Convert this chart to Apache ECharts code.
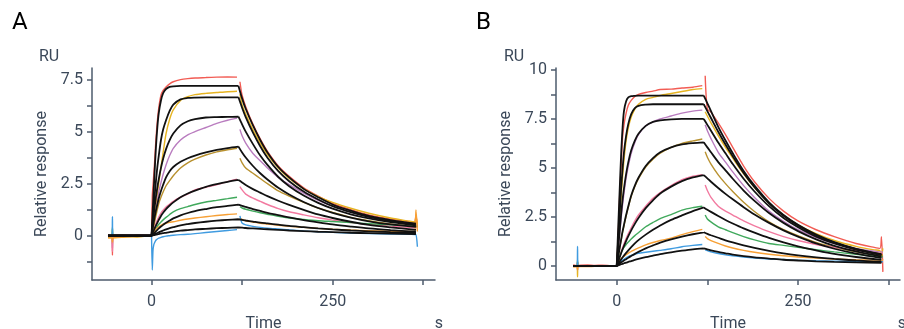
<!DOCTYPE html>
<html>
<head>
<meta charset="utf-8">
<script src="https://cdn.jsdelivr.net/npm/echarts@6/dist/echarts.min.js"></script>
<style>
  html, body { margin: 0; padding: 0; background: #fff; }
  #chart { width: 904px; height: 329px; }
</style>
</head>
<body>
<div id="chart"></div>
<script>
// colours of the measured curves, highest to lowest concentration
const curveColors = ['#f25c54', '#e6b422', '#b97cbf', '#b8912f', '#f27aa0', '#40a95c', '#f7a035', '#3f9be0'];

// time points (s)
const timeBase = [-60, -57, -54.6, -54, -53.4, -50, -40, -30, -20, -10, 0];
const timeAssoc = [0, 1, 2, 3, 4, 6, 8, 10, 13, 16, 20, 25, 30, 40, 50, 60, 75, 90, 105, 118];
const timeDiss = [122, 125, 130, 140, 150, 160, 175, 190, 210, 230, 250, 275, 300, 330, 355, 363, 365, 367];
const fitTimeBase = [-60, 0];
const fitZero = [0, 0];
const fitTimeAssoc = [0, 2, 4, 6, 8, 10, 13, 16, 20, 25, 30, 40, 50, 60, 75, 90, 105, 120];
const fitTimeDiss = [120, 125, 130, 140, 150, 160, 175, 190, 210, 230, 250, 275, 300, 330, 365];

// ---- panel A, measured (RU) ----
const baseA = [
  [0.05, 0.0, 0.0, -0.93, 0.02, 0.03, 0.04, 0.02, 0.03, 0.01, 0],
  [-0.08, -0.1, -0.05, -0.4, -0.08, -0.1, -0.08, -0.05, -0.06, -0.03, 0],
  [0, -0.03, 0, -0.6, 0, -0.02, 0, 0.01, 0, 0, 0],
  [-0.05, -0.06, -0.05, 0.3, -0.05, -0.04, -0.03, -0.02, -0.02, 0, 0],
  [0.02, 0, 0, -0.75, 0, 0.02, 0, 0.01, 0, 0.02, 0],
  [0, 0.01, 0, 0.4, 0, 0, 0.01, 0, 0, 0, 0],
  [-0.12, -0.1, -0.1, -0.3, -0.1, -0.08, -0.06, -0.05, -0.04, -0.02, 0],
  [0, 0, 0, 0.91, 0, 0.01, 0, 0, 0.01, 0, 0]
];
const assocA = [
  [0, 1.9, 2.4, 2.9, 3.4, 4.6, 5.5, 6.15, 6.75, 6.98, 7.15, 7.3, 7.4, 7.5, 7.55, 7.58, 7.6, 7.62, 7.63, 7.62],
  [0, 0.2, 0.4, 0.65, 0.9, 1.4, 2.0, 2.55, 3.3, 4.0, 4.9, 5.6, 6.05, 6.5, 6.68, 6.78, 6.84, 6.88, 6.92, 6.94],
  [0, 0.15, 0.3, 0.5, 0.7, 1.2, 1.65, 2.1, 2.55, 2.95, 3.4, 3.85, 4.2, 4.6, 4.85, 5.0, 5.2, 5.4, 5.55, 5.65],
  [0, 0.12, 0.25, 0.42, 0.6, 0.95, 1.25, 1.55, 1.85, 2.1, 2.4, 2.65, 2.88, 3.25, 3.5, 3.68, 3.88, 4.03, 4.13, 4.2],
  [0, 0.07, 0.15, 0.25, 0.35, 0.58, 0.75, 0.9, 1.08, 1.22, 1.38, 1.52, 1.65, 1.85, 2.0, 2.2, 2.33, 2.45, 2.6, 2.72],
  [0, 0.05, 0.1, 0.16, 0.22, 0.35, 0.45, 0.55, 0.66, 0.76, 0.88, 1.02, 1.15, 1.3, 1.4, 1.5, 1.62, 1.7, 1.78, 1.85],
  [0, 0.04, 0.08, 0.14, 0.2, 0.32, 0.38, 0.43, 0.5, 0.55, 0.6, 0.64, 0.67, 0.74, 0.8, 0.85, 0.91, 0.97, 1.02, 1.05],
  [0, -1.65, -0.7, -0.45, -0.35, -0.22, -0.16, -0.12, -0.08, -0.05, -0.02, 0.0, 0.02, 0.05, 0.07, 0.1, 0.15, 0.2, 0.25, 0.29]
];
const dissA = [
  [7.4, 6.75, 6.2, 5.35, 4.65, 4.05, 3.35, 2.85, 2.3, 1.9, 1.55, 1.25, 1.0, 0.8, 0.68, 0.65, 1.0, 0.4],
  [6.8, 6.3, 5.85, 5.1, 4.45, 3.9, 3.25, 2.75, 2.25, 1.88, 1.6, 1.32, 1.08, 0.85, 0.7, 0.66, 0.9, 0.5],
  [5.11, 4.8, 4.45, 3.95, 3.6, 3.25, 2.8, 2.45, 2.05, 1.7, 1.42, 1.13, 0.9, 0.7, 0.56, 0.52, 0.5, 0.55],
  [3.72, 3.5, 3.25, 3.0, 2.75, 2.5, 2.15, 1.9, 1.6, 1.33, 1.12, 0.88, 0.72, 0.57, 0.48, 0.45, 0.45, 0.44],
  [2.36, 2.2, 2.0, 1.8, 1.65, 1.5, 1.3, 1.15, 1.0, 0.86, 0.75, 0.63, 0.55, 0.46, 0.4, 0.38, 0.4, 0.38],
  [1.39, 1.33, 1.27, 1.18, 1.1, 1.03, 0.93, 0.85, 0.78, 0.72, 0.68, 0.63, 0.58, 0.52, 0.47, 0.45, 0.44, 0.46],
  [0.84, 0.78, 0.72, 0.66, 0.6, 0.56, 0.5, 0.45, 0.4, 0.35, 0.31, 0.27, 0.24, 0.21, 0.2, 0.2, 1.24, 0.2],
  [0.95, 0.6, 0.52, 0.45, 0.4, 0.36, 0.32, 0.28, 0.23, 0.19, 0.16, 0.13, 0.1, 0.08, 0.07, 0.06, 0.06, -0.53]
];
// ---- panel A, fitted ----
const fitAssocA = [
  [0, 1.5, 2.9, 4.2, 5.2, 5.9, 6.5, 6.85, 7.05, 7.15, 7.18, 7.2, 7.2, 7.2, 7.2, 7.2, 7.2, 7.2],
  [0, 0.9, 1.8, 2.6, 3.3, 3.85, 4.6, 5.1, 5.55, 6.0, 6.3, 6.55, 6.62, 6.64, 6.65, 6.65, 6.65, 6.65],
  [0, 0.7, 1.31, 1.85, 2.32, 2.73, 3.26, 3.7, 4.16, 4.59, 4.91, 5.3, 5.5, 5.6, 5.68, 5.7, 5.71, 5.72],
  [0, 0.45, 0.85, 1.2, 1.5, 1.8, 2.15, 2.45, 2.8, 3.1, 3.3, 3.55, 3.72, 3.85, 4.0, 4.12, 4.21, 4.28],
  [0, 0.17, 0.33, 0.48, 0.62, 0.76, 0.95, 1.1, 1.28, 1.45, 1.6, 1.85, 2.03, 2.17, 2.35, 2.48, 2.59, 2.68],
  [0, 0.07, 0.14, 0.21, 0.28, 0.35, 0.44, 0.52, 0.62, 0.73, 0.83, 0.98, 1.09, 1.18, 1.28, 1.37, 1.43, 1.49],
  [0, 0.03, 0.07, 0.1, 0.13, 0.16, 0.21, 0.25, 0.3, 0.36, 0.41, 0.5, 0.56, 0.61, 0.67, 0.72, 0.76, 0.79],
  [0, 0.02, 0.03, 0.05, 0.06, 0.08, 0.1, 0.12, 0.14, 0.17, 0.2, 0.24, 0.27, 0.3, 0.33, 0.36, 0.38, 0.4]
];
const fitDissA = [
  [7.2, 6.6, 6.1, 5.3, 4.6, 4.0, 3.3, 2.8, 2.25, 1.85, 1.5, 1.2, 0.95, 0.75, 0.58],
  [6.65, 6.15, 5.7, 4.95, 4.3, 3.75, 3.1, 2.62, 2.12, 1.74, 1.42, 1.13, 0.9, 0.7, 0.55],
  [5.72, 5.35, 5.0, 4.4, 3.85, 3.4, 2.82, 2.38, 1.93, 1.58, 1.3, 1.03, 0.83, 0.65, 0.5],
  [4.28, 4.0, 3.76, 3.35, 3.0, 2.7, 2.3, 1.98, 1.62, 1.33, 1.1, 0.87, 0.69, 0.54, 0.42],
  [2.68, 2.56, 2.44, 2.24, 2.07, 1.9, 1.68, 1.48, 1.24, 1.02, 0.85, 0.67, 0.52, 0.4, 0.28],
  [1.49, 1.43, 1.38, 1.28, 1.19, 1.1, 0.99, 0.88, 0.75, 0.64, 0.54, 0.44, 0.35, 0.27, 0.19],
  [0.79, 0.76, 0.73, 0.68, 0.63, 0.59, 0.53, 0.47, 0.41, 0.35, 0.3, 0.25, 0.21, 0.17, 0.13],
  [0.4, 0.39, 0.37, 0.35, 0.33, 0.31, 0.28, 0.25, 0.22, 0.19, 0.17, 0.14, 0.12, 0.1, 0.08]
];

// ---- panel B, measured (RU) ----
const baseB = [
  [0.05, 0.03, 0.02, 0.2, 0.02, 0.04, 0.05, 0.03, 0.04, 0.02, 0],
  [-0.02, 0, 0, -0.55, 0, -0.02, 0, 0, -0.01, 0, 0],
  [0, 0, 0, -0.2, 0, 0, 0, 0.01, 0, 0, 0],
  [0, -0.01, 0, 0.2, 0, 0, -0.01, 0, 0, 0, 0],
  [0.02, 0, 0.01, -0.1, 0, 0.02, 0, 0.01, 0, 0.01, 0],
  [0, 0.01, 0, 0.3, 0, 0, 0.01, 0, 0, 0, 0],
  [-0.05, -0.04, -0.04, -0.2, -0.04, -0.03, -0.03, -0.02, -0.02, -0.01, 0],
  [0, 0, 0, 1.0, 0, 0.01, 0, 0, 0.01, 0, 0]
];
const assocB = [
  [0, 0.6, 1.5, 2.5, 3.5, 5.0, 6.5, 7.2, 7.8, 8.2, 8.45, 8.65, 8.75, 8.85, 8.92, 9.0, 9.02, 9.08, 9.12, 9.2],
  [0, 0.5, 1.1, 1.7, 2.3, 3.5, 4.5, 5.4, 6.4, 7.05, 7.6, 8.0, 8.25, 8.5, 8.6, 8.7, 8.8, 8.9, 9.0, 9.05],
  [0, 0.35, 0.8, 1.2, 1.6, 2.4, 3.1, 3.7, 4.5, 5.1, 5.75, 6.3, 6.7, 7.15, 7.35, 7.5, 7.65, 7.8, 7.9, 7.95],
  [0, 0.2, 0.45, 0.7, 0.9, 1.3, 1.7, 2.05, 2.55, 3.0, 3.55, 4.05, 4.45, 5.05, 5.45, 5.75, 6.05, 6.25, 6.38, 6.48],
  [0, 0.1, 0.22, 0.35, 0.47, 0.7, 0.92, 1.12, 1.4, 1.65, 1.95, 2.3, 2.6, 3.05, 3.45, 3.75, 4.1, 4.4, 4.58, 4.66],
  [0, 0.12, 0.25, 0.37, 0.48, 0.66, 0.82, 0.95, 1.1, 1.22, 1.38, 1.55, 1.7, 2.0, 2.22, 2.42, 2.62, 2.85, 2.98, 3.05],
  [0, 0.08, 0.15, 0.22, 0.28, 0.37, 0.44, 0.5, 0.58, 0.66, 0.74, 0.84, 0.92, 1.08, 1.2, 1.3, 1.42, 1.6, 1.75, 1.87],
  [0, 0.05, 0.1, 0.15, 0.19, 0.25, 0.3, 0.34, 0.42, 0.48, 0.54, 0.6, 0.65, 0.7, 0.75, 0.8, 0.88, 0.98, 1.05, 1.1]
];
const dissB = [
  [9.7, 8.0, 7.85, 7.3, 6.7, 6.05, 5.1, 4.3, 3.45, 2.8, 2.3, 1.85, 1.5, 1.15, 0.95, 0.9, 1.5, -0.3],
  [7.87, 7.65, 7.3, 6.65, 6.05, 5.5, 4.7, 4.0, 3.2, 2.6, 2.1, 1.65, 1.3, 1.0, 0.82, 0.78, 0.5, 0.9],
  [7.2, 6.9, 6.5, 5.8, 5.3, 4.8, 4.1, 3.5, 2.8, 2.28, 1.85, 1.45, 1.15, 0.9, 0.75, 0.72, 0.72, 0.7],
  [5.83, 5.55, 5.2, 4.65, 4.2, 3.8, 3.25, 2.78, 2.25, 1.85, 1.55, 1.2, 0.95, 0.72, 0.58, 0.55, 0.56, 0.54],
  [4.13, 3.85, 3.5, 3.05, 2.8, 2.6, 2.3, 2.05, 1.75, 1.5, 1.3, 1.1, 0.95, 0.8, 0.68, 0.65, 0.64, 0.66],
  [2.6, 2.4, 2.25, 2.0, 1.85, 1.7, 1.5, 1.33, 1.15, 1.05, 0.95, 0.83, 0.72, 0.6, 0.5, 0.47, 0.46, 0.48],
  [1.5, 1.4, 1.3, 1.15, 1.02, 0.92, 0.8, 0.7, 0.6, 0.52, 0.46, 0.4, 0.36, 0.32, 0.3, 0.3, 0.2, 0.35],
  [0.82, 0.78, 0.72, 0.64, 0.57, 0.52, 0.46, 0.41, 0.36, 0.33, 0.3, 0.27, 0.25, 0.23, 0.22, 0.22, 0.22, 0.22]
];
// ---- panel B, fitted ----
const fitAssocB = [
  [0, 1.9, 3.8, 5.6, 7.0, 7.9, 8.4, 8.6, 8.66, 8.68, 8.69, 8.69, 8.69, 8.69, 8.69, 8.69, 8.69, 8.69],
  [0, 1.3, 2.6, 3.9, 4.9, 5.8, 6.65, 7.25, 7.75, 8.05, 8.17, 8.23, 8.25, 8.25, 8.25, 8.25, 8.25, 8.25],
  [0, 0.9, 1.75, 2.6, 3.35, 3.95, 4.7, 5.3, 5.9, 6.4, 6.75, 7.15, 7.35, 7.43, 7.48, 7.5, 7.5, 7.5],
  [0, 0.45, 0.9, 1.33, 1.75, 2.1, 2.6, 3.05, 3.6, 4.1, 4.5, 5.1, 5.5, 5.8, 6.05, 6.2, 6.27, 6.31],
  [0, 0.22, 0.43, 0.64, 0.84, 1.02, 1.28, 1.52, 1.82, 2.15, 2.45, 2.95, 3.35, 3.7, 4.05, 4.33, 4.52, 4.64],
  [0, 0.11, 0.22, 0.33, 0.43, 0.53, 0.67, 0.8, 0.96, 1.15, 1.32, 1.6, 1.85, 2.07, 2.35, 2.58, 2.8, 2.99],
  [0, 0.06, 0.12, 0.18, 0.23, 0.28, 0.35, 0.42, 0.51, 0.62, 0.72, 0.9, 1.05, 1.19, 1.36, 1.5, 1.62, 1.72],
  [0, 0.03, 0.06, 0.09, 0.11, 0.14, 0.17, 0.21, 0.25, 0.31, 0.36, 0.45, 0.53, 0.61, 0.7, 0.78, 0.85, 0.9]
];
const fitDissB = [
  [8.69, 8.3, 7.9, 7.1, 6.4, 5.75, 4.85, 4.1, 3.25, 2.6, 2.1, 1.6, 1.22, 0.88, 0.6],
  [8.25, 7.9, 7.55, 6.85, 6.2, 5.6, 4.75, 4.02, 3.2, 2.56, 2.06, 1.57, 1.2, 0.86, 0.58],
  [7.5, 7.2, 6.9, 6.3, 5.75, 5.2, 4.45, 3.8, 3.05, 2.45, 1.98, 1.5, 1.15, 0.83, 0.55],
  [6.31, 6.05, 5.8, 5.3, 4.88, 4.45, 3.85, 3.32, 2.7, 2.2, 1.78, 1.36, 1.03, 0.74, 0.48],
  [4.64, 4.47, 4.3, 3.98, 3.68, 3.4, 3.0, 2.63, 2.2, 1.82, 1.5, 1.15, 0.88, 0.63, 0.4],
  [2.99, 2.87, 2.76, 2.55, 2.35, 2.17, 1.92, 1.7, 1.43, 1.2, 1.0, 0.8, 0.62, 0.46, 0.31],
  [1.72, 1.64, 1.57, 1.44, 1.31, 1.2, 1.05, 0.92, 0.77, 0.64, 0.54, 0.44, 0.36, 0.28, 0.21],
  [0.9, 0.85, 0.8, 0.72, 0.65, 0.58, 0.5, 0.44, 0.38, 0.32, 0.28, 0.24, 0.21, 0.18, 0.16]
];

// axis ticks / labels
const xTicks = [0, 125, 250, 375];
const xLabels = [0, 250];
const yTicksA = [-1.25, 0, 1.25, 2.5, 3.75, 5, 6.25, 7.5];
const yLabelsA = [0, 2.5, 5, 7.5];
const yTicksB = [0, 1.25, 2.5, 3.75, 5, 6.25, 7.5, 8.75, 10];
const yLabelsB = [0, 2.5, 5, 7.5, 10];

const axisColor = '#4d5b6c';
const textColor = '#3b4859';
const fontFamily = 'Roboto';

// join several [times, values] pieces, with a break between them
function pieces(parts) {
  const out = [];
  parts.forEach((p, k) => {
    if (k > 0) out.push([p[0][0], '-']);
    p[0].forEach((t, i) => out.push([t, p[1][i]]));
  });
  return out;
}

function panelSeries(idx, base, assoc, diss, fitAssoc, fitDiss) {
  const list = [];
  for (let i = 0; i < 8; i++) {
    list.push({
      type: 'line', xAxisIndex: idx, yAxisIndex: idx,
      data: pieces([[timeBase, base[i]], [timeAssoc, assoc[i]], [timeDiss, diss[i]]]),
      showSymbol: false, smooth: 0.25, silent: true, z: 2,
      lineStyle: { color: curveColors[i], width: 1.4 }
    });
  }
  for (let i = 0; i < 8; i++) {
    list.push({
      type: 'line', xAxisIndex: idx, yAxisIndex: idx,
      data: pieces([[fitTimeBase, fitZero], [fitTimeAssoc, fitAssoc[i]], [fitTimeDiss, fitDiss[i]]]),
      showSymbol: false, smooth: 0.3, silent: true, z: 3,
      lineStyle: { color: '#111', width: 1.8 }
    });
  }
  return list;
}

function xAxis(idx, min, max) {
  return {
    type: 'value', gridIndex: idx, min: min, max: max,
    name: 'Time', nameLocation: 'middle', nameGap: 36,
    nameTextStyle: { color: textColor, fontSize: 16, fontFamily: fontFamily },
    axisLine: { onZero: false, lineStyle: { color: axisColor, width: 1.5 } },
    axisTick: { customValues: xTicks, length: 5, lineStyle: { color: axisColor, width: 1.5 } },
    axisLabel: { customValues: xLabels, color: textColor, fontSize: 16, fontFamily: fontFamily, margin: 14 },
    splitLine: { show: false }
  };
}

function yAxis(idx, min, max, ticks, labels) {
  return {
    type: 'value', gridIndex: idx, min: min, max: max,
    name: 'Relative response', nameLocation: 'middle', nameGap: 42, nameRotate: 90,
    nameTextStyle: { color: textColor, fontSize: 16, fontFamily: fontFamily },
    axisLine: { show: true, onZero: false, lineStyle: { color: axisColor, width: 1.5 } },
    axisTick: { show: true, customValues: ticks, length: 5, lineStyle: { color: axisColor, width: 1.5 } },
    axisLabel: { customValues: labels, color: textColor, fontSize: 16, fontFamily: fontFamily, margin: 9 },
    splitLine: { show: false }
  };
}

function label(text, x, y, size, color, align) {
  return {
    type: 'text', x: x, y: y, silent: true,
    style: { text: text, fill: color, fontSize: size, fontFamily: fontFamily, align: align || 'center', verticalAlign: 'middle' }
  };
}

const chart = echarts.init(document.getElementById('chart'));
chart.setOption({
  animation: false,
  backgroundColor: '#fff',
  grid: [
    { left: 92, top: 68, width: 343, height: 212, outerBoundsMode: 'none' },
    { left: 556, top: 68, width: 344, height: 212, outerBoundsMode: 'none' }
  ],
  xAxis: [xAxis(0, -82.2, 391.3), xAxis(1, -83.7, 390.6)],
  yAxis: [yAxis(0, -2.13, 8.06, yTicksA, yLabelsA), yAxis(1, -0.714, 10.1, yTicksB, yLabelsB)],
  graphic: [
    label('A', 12, 23, 24, '#000', 'left'),
    label('B', 476, 23, 24, '#000', 'left'),
    label('RU', 49, 57, 16, textColor),
    label('RU', 514, 57, 16, textColor),
    label('s', 439, 324, 16, textColor),
    label('s', 902, 324, 16, textColor)
  ],
  series: panelSeries(0, baseA, assocA, dissA, fitAssocA, fitDissA)
    .concat(panelSeries(1, baseB, assocB, dissB, fitAssocB, fitDissB))
});
</script>
</body>
</html>
